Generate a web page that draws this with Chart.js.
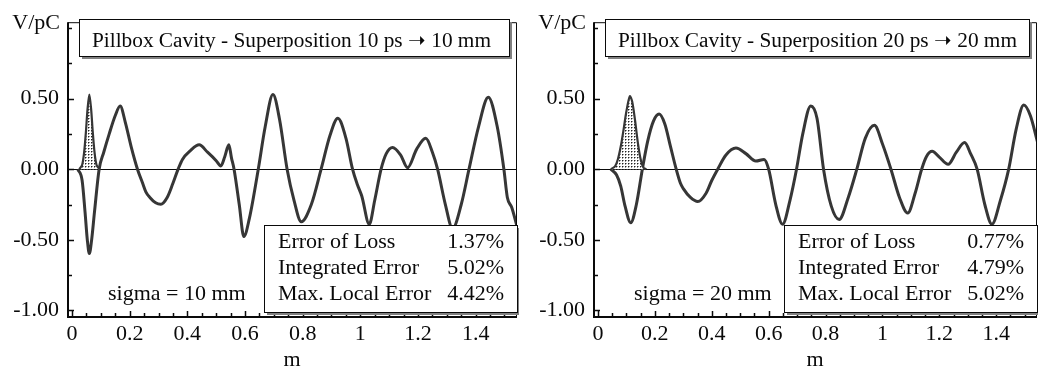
<!DOCTYPE html>
<html>
<head>
<meta charset="utf-8">
<script src="https://cdn.jsdelivr.net/npm/chart.js@4.4.1/dist/chart.umd.min.js"></script>
<style>
  body { margin: 0; background: #fff; }
  .panel { position: absolute; top: 0; width: 519px; height: 369px; }
</style>
</head>
<body>
<div class="panel" style="left:0"><canvas id="chart10" width="519" height="369"></canvas></div>
<div class="panel" style="left:519px"><canvas id="chart20" width="519" height="369"></canvas></div>
<script>
// sigma = 10 mm
const wakeX10 = [0.02, 0.035, 0.045, 0.053, 0.060, 0.068, 0.078, 0.094, 0.11, 0.129, 0.15, 0.167, 0.185, 0.205, 0.227, 0.245, 0.256, 0.27, 0.29, 0.308, 0.33, 0.35, 0.368, 0.383, 0.41, 0.441, 0.47, 0.50, 0.516, 0.53, 0.544, 0.553, 0.562, 0.58, 0.596, 0.615, 0.646, 0.67, 0.697, 0.72, 0.746, 0.77, 0.795, 0.83, 0.864, 0.895, 0.922, 0.95, 0.973, 0.99, 1.005, 1.031, 1.05, 1.072, 1.09, 1.112, 1.14, 1.164, 1.195, 1.227, 1.25, 1.268, 1.295, 1.32, 1.35, 1.377, 1.41, 1.444, 1.475, 1.498, 1.51, 1.525, 1.543];
const wakeY10 = [0, -0.08, -0.3, -0.5, -0.597, -0.5, -0.3, 0, 0.12, 0.25, 0.38, 0.447, 0.33, 0.16, 0, -0.1, -0.16, -0.2, -0.238, -0.248, -0.2, -0.1, 0, 0.069, 0.13, 0.172, 0.12, 0.06, 0.023, 0.09, 0.172, 0.08, 0, -0.25, -0.477, -0.35, 0, 0.3, 0.528, 0.35, 0, -0.22, -0.372, -0.25, 0, 0.24, 0.36, 0.22, 0, -0.11, -0.19, -0.39, -0.22, 0, 0.11, 0.154, 0.1, 0.011, 0.14, 0.218, 0.12, 0, -0.25, -0.42, -0.25, 0, 0.3, 0.509, 0.3, 0, -0.2, -0.27, -0.4];
const bunchX10 = [0.025, 0.035, 0.042, 0.048, 0.054, 0.060, 0.066, 0.072, 0.078, 0.085, 0.095];
const bunchY10 = [0, 0.03, 0.12, 0.26, 0.43, 0.528, 0.43, 0.26, 0.12, 0.03, 0];
const stats10 = ['1.37%', '5.02%', '4.42%'];

// sigma = 20 mm
const wakeX20 = [0.045, 0.065, 0.08, 0.095, 0.115, 0.135, 0.156, 0.175, 0.195, 0.215, 0.235, 0.255, 0.275, 0.29, 0.30, 0.325, 0.351, 0.38, 0.40, 0.421, 0.45, 0.485, 0.52, 0.555, 0.584, 0.60, 0.625, 0.649, 0.675, 0.698, 0.72, 0.748, 0.77, 0.793, 0.82, 0.848, 0.88, 0.91, 0.94, 0.972, 1.0, 1.03, 1.06, 1.089, 1.115, 1.138, 1.155, 1.175, 1.2, 1.231, 1.26, 1.289, 1.31, 1.333, 1.36, 1.385, 1.415, 1.444, 1.47, 1.497, 1.52, 1.545];
const wakeY20 = [0, -0.04, -0.12, -0.26, -0.379, -0.25, 0, 0.2, 0.34, 0.39, 0.32, 0.16, 0, -0.1, -0.138, -0.2, -0.229, -0.17, -0.08, 0, 0.1, 0.149, 0.11, 0.057, 0.069, 0, -0.25, -0.39, -0.22, 0, 0.25, 0.447, 0.36, 0, -0.26, -0.356, -0.2, 0, 0.22, 0.31, 0.18, 0, -0.2, -0.31, -0.17, 0, 0.09, 0.126, 0.085, 0.034, 0.12, 0.188, 0.11, 0, -0.25, -0.39, -0.22, 0, 0.28, 0.454, 0.38, 0.195];
const bunchX20 = [0.045, 0.06, 0.07, 0.08, 0.09, 0.10, 0.112, 0.12, 0.13, 0.14, 0.15, 0.16, 0.17];
const bunchY20 = [0, 0.02, 0.07, 0.16, 0.28, 0.41, 0.516, 0.48, 0.35, 0.19, 0.07, 0.01, 0];
const stats20 = ['0.77%', '4.79%', '5.02%'];

// axes
const statLabels = ['Error of Loss', 'Integrated Error', 'Max. Local Error'];
const xTicks = [0, 0.05, 0.1, 0.15, 0.2, 0.25, 0.3, 0.35, 0.4, 0.45, 0.5, 0.55, 0.6, 0.65, 0.7, 0.75, 0.8, 0.85, 0.9, 0.95, 1, 1.05, 1.1, 1.15, 1.2, 1.25, 1.3, 1.35, 1.4, 1.45, 1.5];
const xMajor = [0, 0.2, 0.4, 0.6, 0.8, 1, 1.2, 1.4];
const xLabels = ['0', '0.2', '0.4', '0.6', '0.8', '1', '1.2', '1.4'];
const yTicks = [-1, -0.75, -0.5, -0.25, 0, 0.25, 0.5, 0.75, 1];
const yMajor = [-1, -0.5, 0, 0.5];
const yLabels = ['-1.00', '-0.50', '0.00', '0.50'];

const FONT = "'Liberation Serif', 'Times New Roman', serif";
const INK = '#0a0a0a';
const CURVE = '#363636';

function toPoints(xs, ys) {
    return xs.map((x, i) => ({ x: x, y: ys[i] }));
}

function labelFor(value, major, labels) {
    const i = major.findIndex(m => Math.abs(m - value) < 1e-6);
    return i >= 0 ? labels[i] : '';
}

function dotPattern() {
    const c = document.createElement('canvas');
    c.width = 3;
    c.height = 3;
    const g = c.getContext('2d');
    g.fillStyle = '#fff';
    g.fillRect(0, 0, 3, 3);
    g.fillStyle = '#222';
    g.fillRect(1, 1, 1, 1);
    g.fillStyle = '#999';
    g.fillRect(2, 1, 1, 1);
    g.fillRect(1, 2, 1, 1);
    return g.createPattern(c, 'repeat');
}

function shadowBox(ctx, l, t, r, b) {
    ctx.fillStyle = '#808080';
    ctx.fillRect(l + 3, t + 3, r - l, b - t);
    ctx.fillStyle = '#fff';
    ctx.fillRect(l, t, r - l, b - t);
    ctx.strokeStyle = INK;
    ctx.lineWidth = 1;
    ctx.strokeRect(l + 0.5, t + 0.5, r - l, b - t);
}

const panelPlugin = {
    id: 'panel',
    beforeDatasetsDraw(chart) {
        const { ctx, chartArea: a, scales } = chart;
        const y0 = scales.y.getPixelForValue(0);
        ctx.save();
        ctx.strokeStyle = INK;
        ctx.lineWidth = 1;
        ctx.beginPath();
        ctx.moveTo(a.left, Math.round(y0) + 0.5);
        ctx.lineTo(a.right, Math.round(y0) + 0.5);
        ctx.stroke();
        ctx.restore();
    },
    afterDraw(chart, args, o) {
        const { ctx, chartArea: a, scales } = chart;
        ctx.save();

        // frame
        ctx.strokeStyle = INK;
        ctx.lineWidth = 1;
        ctx.beginPath();
        ctx.moveTo(a.left, a.top + 0.5);
        ctx.lineTo(a.right + 0.5, a.top + 0.5);
        ctx.lineTo(a.right + 0.5, a.bottom);
        ctx.stroke();
        ctx.lineWidth = 2;
        ctx.beginPath();
        ctx.moveTo(a.left, a.top);
        ctx.lineTo(a.left, a.bottom);
        ctx.lineTo(a.right + 1, a.bottom);
        ctx.stroke();

        // inward tick marks
        ctx.lineWidth = 1.5;
        scales.x.ticks.forEach(t => {
            const px = Math.round(scales.x.getPixelForValue(t.value)) + 0.5;
            const len = t.label ? 6 : 4;
            ctx.beginPath();
            ctx.moveTo(px, a.bottom);
            ctx.lineTo(px, a.bottom - len);
            ctx.stroke();
        });
        scales.y.ticks.forEach(t => {
            const py = Math.round(scales.y.getPixelForValue(t.value)) + 0.5;
            const len = t.label ? 6 : 4;
            ctx.beginPath();
            ctx.moveTo(a.left, py);
            ctx.lineTo(a.left + len, py);
            ctx.stroke();
        });

        ctx.fillStyle = INK;
        ctx.font = '22px ' + FONT;
        ctx.textBaseline = 'alphabetic';

        // unit and axis title
        ctx.textAlign = 'right';
        ctx.fillText('V/pC', a.left - 8, 29);
        ctx.textAlign = 'center';
        ctx.fillText('m', (a.left + a.right) / 2, 366);

        // title box
        shadowBox(ctx, a.left + 11, 19, a.right - 7, 56);
        ctx.fillStyle = INK;
        ctx.textAlign = 'left';
        ctx.font = '21.3px ' + FONT;
        ctx.fillText(o.title, a.left + 24, 47);

        // sigma note
        ctx.font = '22px ' + FONT;
        ctx.fillText(o.sigma, a.left + 40, 300);

        // error box
        shadowBox(ctx, a.right - 252, 225, a.right + 1, 312);
        ctx.fillStyle = INK;
        o.values.forEach((v, i) => {
            const y = 248 + i * 26;
            ctx.textAlign = 'left';
            ctx.fillText(statLabels[i], a.right - 238, y);
            ctx.textAlign = 'right';
            ctx.fillText(v, a.right - 12, y);
        });
        ctx.restore();
    }
};

function makePanel(id, axisWidth, padRight, wake, bunch, title, sigma, values) {
    const ctx = document.getElementById(id);
    new Chart(ctx, {
        type: 'line',
        data: {
            datasets: [
                {
                    data: bunch,
                    borderColor: CURVE,
                    borderWidth: 2.2,
                    backgroundColor: dotPattern(),
                    fill: 'origin',
                    pointRadius: 0,
                    tension: 0.3
                },
                {
                    data: wake,
                    borderColor: CURVE,
                    borderWidth: 3,
                    fill: false,
                    pointRadius: 0,
                    cubicInterpolationMode: 'monotone'
                }
            ]
        },
        options: {
            responsive: false,
            animation: false,
            layout: { padding: { left: 0, right: padRight, top: 14, bottom: 0 } },
            plugins: {
                legend: { display: false },
                tooltip: { enabled: false },
                panel: { title: title, sigma: sigma, values: values }
            },
            scales: {
                x: {
                    type: 'linear',
                    min: -0.014,
                    max: 1.54,
                    grid: { display: false, drawTicks: false },
                    border: { display: false },
                    afterBuildTicks: s => { s.ticks = xTicks.map(v => ({ value: v })); },
                    afterFit: s => { s.height = 52; },
                    ticks: {
                        autoSkip: false,
                        maxRotation: 0,
                        padding: 4,
                        color: INK,
                        font: { family: FONT, size: 22 },
                        callback: v => labelFor(v, xMajor, xLabels)
                    }
                },
                y: {
                    min: -1.046,
                    max: 1.04,
                    grid: { display: false, drawTicks: false },
                    border: { display: false },
                    afterBuildTicks: s => { s.ticks = yTicks.map(v => ({ value: v })); },
                    afterFit: s => { s.width = axisWidth; },
                    ticks: {
                        autoSkip: false,
                        padding: 9,
                        color: INK,
                        font: { family: FONT, size: 22 },
                        callback: v => labelFor(v, yMajor, yLabels)
                    }
                }
            }
        },
        plugins: [panelPlugin]
    });
}

makePanel('chart10', 68, 3, toPoints(wakeX10, wakeY10), toPoints(bunchX10, bunchY10),
    'Pillbox Cavity - Superposition 10 ps \u279D 10 mm', 'sigma = 10 mm', stats10);
makePanel('chart20', 75, 2, toPoints(wakeX20, wakeY20), toPoints(bunchX20, bunchY20),
    'Pillbox Cavity - Superposition 20 ps \u279D 20 mm', 'sigma = 20 mm', stats20);
</script>
</body>
</html>
